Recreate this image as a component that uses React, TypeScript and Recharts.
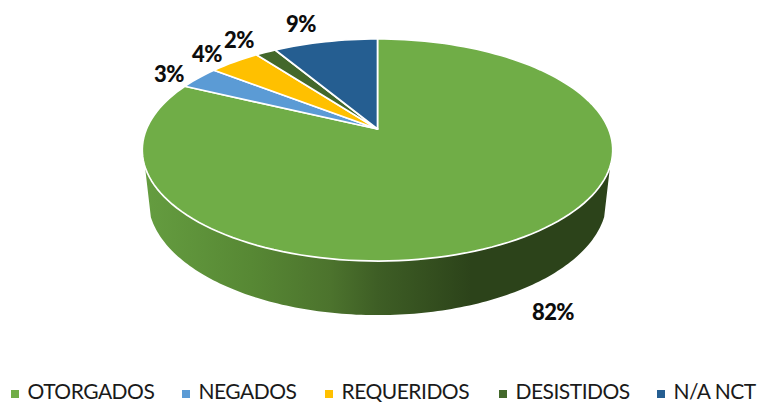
import { PieChart, Pie, Legend } from "recharts";

const categories = ["OTORGADOS", "NEGADOS", "REQUERIDOS", "DESISTIDOS", "N/A NCT"];
const shares = [82.1, 3.4, 4.2, 1.7, 8.6];
const colors = ["#70ad47", "#5b9bd5", "#ffc000", "#43682b", "#255e91"];
// hand placed data labels, same order as categories
const labelSpots = [
  [553, 311],
  [169, 73],
  [207, 53],
  [239, 39],
  [301, 23],
];

const data = categories.map((name, i) => ({ name, value: shares[i], fill: colors[i] }));

const CX = 377.5;
const CY = 129;
const R = 231;
// perspective of the tilted disc
const SQUASH = 0.4636;
const TILT = 0.189;
const FONT = "Lato, 'Open Sans', sans-serif";

function project(cx: number, cy: number, r: number, deg: number) {
  const a = (deg * Math.PI) / 180;
  const u = Math.cos(a);
  const v = Math.sin(a);
  const d = 1 + TILT * v;
  return [cx + (r * u) / d, cy - (r * SQUASH * v) / d];
}

// wall point is the top rim point pushed down and slightly inward
function lower(cx: number, cy: number, p: number[]) {
  return [cx + (p[0] - cx) * 0.975, cy + (p[1] - cy) * 1.043 + 48.4];
}

function DiscSlice(props: any) {
  const { cx, cy, outerRadius, startAngle, endAngle, fill } = props;
  const steps = Math.max(4, Math.ceil(Math.abs(endAngle - startAngle) / 2));
  const rim: number[][] = [];
  for (let i = 0; i <= steps; i++) {
    rim.push(project(cx, cy, outerRadius, startAngle + ((endAngle - startAngle) * i) / steps));
  }
  const top = `M${cx},${cy} ` + rim.map((p) => `L${p[0]},${p[1]}`).join(" ") + " Z";

  // side wall only on the part of the rim facing the viewer
  const from = Math.min(startAngle, -19.4);
  const to = Math.max(endAngle, -160.6);
  let wall = null;
  if (from > to) {
    const edge: number[][] = [];
    for (let a = from; a >= to; a -= 1) edge.push(project(cx, cy, outerRadius, a));
    edge.push(project(cx, cy, outerRadius, to));
    const under = edge.map((p) => lower(cx, cy, p)).reverse();
    const d = "M" + [...edge, ...under].map((p) => `${p[0]},${p[1]}`).join(" L") + " Z";
    wall = <path d={d} fill="url(#wallShade)" />;
  }
  return (
    <g>
      {wall}
      <path d={top} fill={fill} stroke="#fff" strokeWidth={1.7} strokeLinejoin="round" />
    </g>
  );
}

function PercentLabel(props: any) {
  const spot = labelSpots[props.index];
  return (
    <text
      x={spot[0]}
      y={spot[1]}
      textAnchor="middle"
      dominantBaseline="central"
      fontFamily={FONT}
      fontWeight={900}
      fontSize={22}
      letterSpacing={-0.6}
      fill="#0d0d0d"
    >
      {Math.round(props.percent * 100)}%
    </text>
  );
}

function LegendRow(props: any) {
  const starts = [11, 182, 325, 499, 657];
  return (
    <div style={{ position: "relative", height: 30, fontFamily: FONT, fontSize: 21, letterSpacing: -0.5, color: "#1a1a1a" }}>
      {props.payload.map((item: any, i: number) => (
        <div key={item.value} style={{ position: "absolute", left: starts[i], top: 0, whiteSpace: "nowrap", lineHeight: "30px" }}>
          <span style={{ display: "inline-block", width: 8, height: 8, background: item.color, marginRight: 8.5, verticalAlign: "1px" }} />
          {item.value}
        </div>
      ))}
    </div>
  );
}

export default function App() {
  return (
    <div style={{ position: "absolute", left: 0, top: 0, width: 758, height: 406, background: "#fff" }}>
      <PieChart width={758} height={406} margin={{ top: 0, right: 0, bottom: 0, left: 0 }}>
        <defs>
          <linearGradient id="wallShade" gradientUnits="userSpaceOnUse" x1={143} y1={0} x2={612} y2={0}>
            <stop offset="0" stopColor="#659d40" />
            <stop offset="0.23" stopColor="#578834" />
            <stop offset="0.4" stopColor="#4c732d" />
            <stop offset="0.5" stopColor="#3e5e25" />
            <stop offset="0.7" stopColor="#2c431a" />
            <stop offset="1" stopColor="#2c431a" />
          </linearGradient>
        </defs>
        <Pie
          data={data}
          dataKey="value"
          nameKey="name"
          cx={CX}
          cy={CY}
          outerRadius={R}
          startAngle={90}
          endAngle={-270}
          paddingAngle={0}
          stroke="none"
          shape={DiscSlice}
          label={PercentLabel}
          labelLine={false}
          isAnimationActive={false}
        />
        <Legend
          verticalAlign="bottom"
          content={LegendRow}
          itemSorter={null}
          wrapperStyle={{ left: 0, bottom: 0, width: 758, height: 30 }}
        />
      </PieChart>
    </div>
  );
}
